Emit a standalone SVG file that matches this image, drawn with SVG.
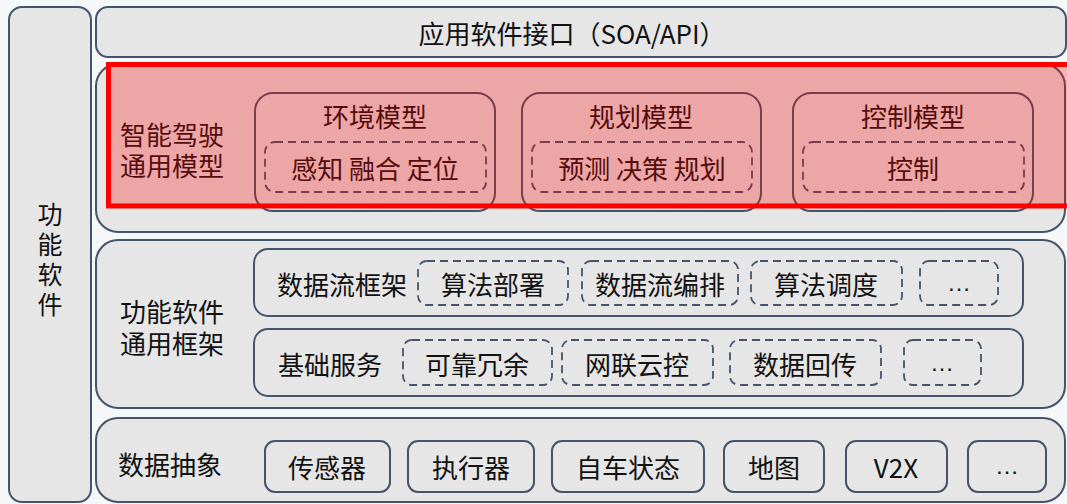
<svg xmlns="http://www.w3.org/2000/svg" width="1067" height="504" viewBox="0 0 1067 504">
<style>
.box{fill:#E6E6E6;stroke:#44546A;stroke-width:2}
.inner{fill:none;stroke:#44546A;stroke-width:2}
.dash{fill:none;stroke:#44546A;stroke-width:1.8;stroke-dasharray:8 5}
text{font-family:"Noto Sans CJK SC","Microsoft YaHei",sans-serif;font-size:26px;fill:#111;text-anchor:middle;dominant-baseline:central}
text.dots{font-family:"Liberation Sans",Arial,sans-serif;font-size:24px}
text.vert{writing-mode:vertical-rl;letter-spacing:5px;font-size:25px}
</style>
<rect x="0" y="0" width="1067" height="504" fill="#F6F7F9"/>

<g id="left-col">
<rect class="box" x="9" y="7" width="82" height="495" rx="13"/>
<text class="vert" x="50" y="262">功能软件</text>
</g>

<g id="api">
<rect class="box" x="96" y="7" width="970" height="50" rx="12"/>
<text x="572" y="32">应用软件接口（SOA/API）</text>
</g>

<g id="models">
<rect class="box" x="96" y="64" width="969" height="168" rx="22"/>
<text x="172" y="133">智能驾驶<tspan x="172" dy="31">通用模型</tspan></text>
<g id="env">
<rect class="inner" x="255" y="93" width="240" height="118" rx="18"/>
<text x="375" y="115">环境模型</text>
<rect class="dash" x="265" y="142" width="221" height="50" rx="10"/>
<text x="375" y="167">感知 融合 定位</text>
</g>
<g id="plan">
<rect class="inner" x="522" y="93" width="239" height="118" rx="18"/>
<text x="641" y="115">规划模型</text>
<rect class="dash" x="532" y="142" width="220" height="50" rx="10"/>
<text x="642" y="167">预测 决策 规划</text>
</g>
<g id="ctrl">
<rect class="inner" x="793" y="93" width="240" height="118" rx="18"/>
<text x="913" y="115">控制模型</text>
<rect class="dash" x="803" y="142" width="221" height="50" rx="10"/>
<text x="913" y="167">控制</text>
</g>
<rect x="108.5" y="64.5" width="975" height="141.5" fill="#FF0000" fill-opacity="0.28" stroke="#FF0000" stroke-width="5"/>
</g>

<g id="framework">
<rect class="box" x="96" y="240" width="969" height="168" rx="22"/>
<text x="172" y="310">功能软件<tspan x="172" dy="32">通用框架</tspan></text>
<g id="dataflow">
<rect class="inner" x="254" y="249" width="769" height="67" rx="14"/>
<text x="342" y="283">数据流框架</text>
<rect class="dash" x="418" y="261" width="150" height="44" rx="9"/>
<text x="493" y="283">算法部署</text>
<rect class="dash" x="582" y="261" width="156" height="44" rx="9"/>
<text x="660" y="283">数据流编排</text>
<rect class="dash" x="751" y="261" width="151" height="44" rx="9"/>
<text x="826" y="283">算法调度</text>
<rect class="dash" x="920" y="261" width="78" height="44" rx="9"/>
<text class="dots" x="959" y="282">…</text>
</g>
<g id="basic">
<rect class="inner" x="254" y="329" width="769" height="67" rx="14"/>
<text x="330" y="363">基础服务</text>
<rect class="dash" x="403" y="340" width="149" height="45" rx="9"/>
<text x="477" y="363">可靠冗余</text>
<rect class="dash" x="562" y="340" width="151" height="45" rx="9"/>
<text x="637" y="363">网联云控</text>
<rect class="dash" x="730" y="340" width="151" height="45" rx="9"/>
<text x="805" y="363">数据回传</text>
<rect class="dash" x="904" y="340" width="77" height="45" rx="9"/>
<text class="dots" x="942" y="362">…</text>
</g>
</g>

<g id="abstraction">
<rect class="box" x="96" y="418" width="969" height="84" rx="22"/>
<text x="170" y="463">数据抽象</text>
<rect class="inner" x="265" y="441" width="125" height="51" rx="10"/>
<text x="327" y="466">传感器</text>
<rect class="inner" x="408" y="441" width="126" height="51" rx="10"/>
<text x="471" y="466">执行器</text>
<rect class="inner" x="552" y="441" width="152" height="51" rx="10"/>
<text x="628" y="466">自车状态</text>
<rect class="inner" x="724" y="441" width="100" height="51" rx="10"/>
<text x="774" y="466">地图</text>
<rect class="inner" x="846" y="441" width="101" height="51" rx="10"/>
<text x="896" y="466">V2X</text>
<rect class="inner" x="968" y="441" width="78" height="51" rx="10"/>
<text class="dots" x="1007" y="465">…</text>
</g>
<g id="connectors"></g>
</svg>
